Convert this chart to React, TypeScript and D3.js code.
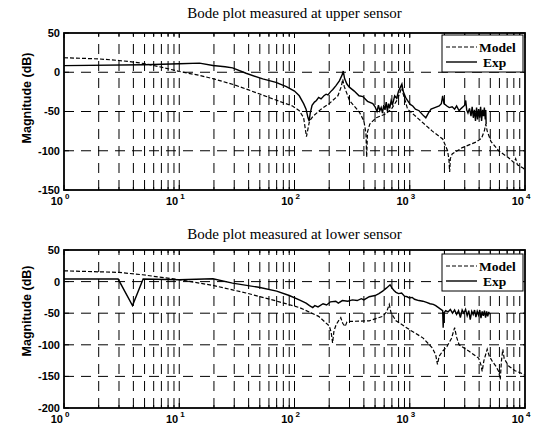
import * as d3 from 'd3'

type Pt = [number, number]

const decadeTicks = [1, 10, 100, 1000, 10000]
const decadeExponents = ['0', '1', '2', '3', '4']
const upperYTicks = [50, 0, -50, -100, -150]
const lowerYTicks = [50, 0, -50, -100, -150, -200]
const seriesNames = ['Model', 'Exp']

// upper sensor, model (freq Hz, dB)
const upperModel: Pt[] = [
  [1, 18.5], [2, 17], [3, 15], [4, 13], [5, 11], [7, 6.5], [10, 1], [15, -4], [20, -8.5],
  [30, -16], [40, -22.5], [65, -34], [96, -43], [110, -49], [120, -58], [127, -82], [135, -62],
  [145, -56], [170, -47], [200, -40], [238, -30], [255, -18], [262, -9], [270, -18], [300, -36],
  [366, -51], [400, -62], [417, -78], [423, -108], [430, -76], [450, -66], [510, -58], [620, -53],
  [700, -46], [780, -35], [840, -22], [856, -19], [875, -27], [958, -47], [1205, -60], [1570, -75],
  [1930, -85], [2130, -100], [2190, -112], [2220, -127], [2250, -110], [2335, -104], [2860, -96],
  [3760, -89], [4200, -84], [4450, -74], [4570, -66], [4700, -75], [5060, -88], [5900, -100],
  [7200, -109], [8000, -115], [8300, -110], [8600, -118], [9600, -122], [10000, -124],
]

// upper sensor, measured
const upperExp: Pt[] = [
  [1, 8.5], [5, 9.5], [10, 10.8], [15, 11.6], [19.6, 8.6], [25, 7], [29, 5.6], [38, -1.3], [53, -8.5],
  [69, -12.8], [85, -18.3], [100, -24], [110, -30], [120, -40], [126, -47], [131, -58], [134, -62],
  [137, -52], [142, -42], [149, -38], [155, -36], [162, -32], [170, -34], [180, -30], [188, -28],
  [195, -29], [205, -25], [215, -22], [229, -17], [245, -11], [258, -4], [265, 1.5], [272, -8],
  [285, -15], [299, -19], [330, -24], [363, -30], [392, -31], [430, -37], [478, -40], [500, -44],
  [520, -50], [535, -42], [550, -49], [565, -45], [580, -52], [595, -42], [610, -48], [625, -38],
  [640, -50], [655, -40], [670, -46], [690, -36], [710, -41], [740, -30], [770, -33], [800, -24],
  [830, -19], [855, -15], [880, -25], [920, -32], [958, -36], [1010, -41], [1062, -43], [1120, -47],
  [1205, -49], [1290, -54], [1378, -58], [1450, -52], [1530, -47], [1650, -45], [1800, -43],
  [1880, -40], [1930, -30], [1980, -40], [2100, -43], [2200, -45], [2335, -44], [2450, -47],
  [2550, -43], [2680, -49], [2800, -46], [2900, -44], [3000, -42], [3060, -36], [3120, -48],
  [3200, -52], [3300, -46], [3400, -56], [3480, -44], [3560, -58], [3640, -48], [3720, -62],
  [3800, -45], [3880, -60], [3960, -47], [4040, -58], [4120, -44], [4200, -62], [4280, -48],
  [4360, -56], [4440, -45], [4520, -60], [4570, -48], [4600, -66],
]

// lower sensor, model
const lowerModel: Pt[] = [
  [1, 17], [3, 14.6], [4.8, 10.8], [10, 3], [19.6, -6], [38, -18], [69, -30.5], [110, -41],
  [162, -55], [200, -70], [208, -80], [214, -97], [220, -78], [230, -68], [245, -60], [252, -57],
  [262, -66], [275, -71], [285, -64], [299, -63], [445, -62], [582, -55], [630, -48], [664, -36],
  [690, -50], [760, -62], [995, -76], [1300, -89], [1570, -105], [1680, -116], [1740, -131],
  [1800, -118], [1930, -110], [2100, -103], [2300, -90], [2450, -73], [2550, -88], [2680, -100],
  [3250, -110], [3960, -121], [4150, -132], [4250, -142], [4400, -125], [4700, -107], [4900, -118],
  [5200, -126], [5600, -134], [5900, -142], [6100, -155], [6250, -125], [6420, -107], [6600, -122],
  [7250, -134], [8200, -141], [9600, -146], [10000, -148],
]

// lower sensor, measured
const lowerExp: Pt[] = [
  [1, 4], [2.95, 4], [3.93, -38], [4.86, 4], [10, 3], [19.6, 4.5], [29, -2.4], [49, -9], [70, -15],
  [90, -22], [110, -29], [126, -34], [135, -38], [144, -41], [150, -38], [160, -40], [177, -35],
  [190, -37], [205, -32], [228, -31], [240, -34], [260, -30], [290, -31], [318, -29], [350, -30],
  [380, -27], [400, -29], [445, -24], [500, -22], [540, -19], [582, -15], [630, -10], [675, -5],
  [700, -10], [730, -14], [760, -17], [800, -19], [850, -18], [900, -23], [950, -24], [995, -26],
  [1050, -25], [1100, -28], [1200, -30], [1300, -31], [1400, -33], [1500, -35], [1600, -36],
  [1680, -38], [1800, -42], [1930, -46], [1950, -73], [1970, -50], [2050, -46], [2150, -48],
  [2250, -44], [2350, -50], [2450, -45], [2550, -52], [2650, -46], [2750, -57], [2850, -45],
  [2950, -50], [3050, -44], [3150, -54], [3250, -46], [3350, -60], [3450, -47], [3550, -52],
  [3650, -45], [3750, -56], [3850, -47], [3950, -53], [4050, -45], [4150, -58], [4250, -47],
  [4350, -54], [4450, -46], [4550, -57], [4650, -47], [4750, -55], [4850, -48], [4900, -52],
]

const sans = 'Liberation Sans, Arial, sans-serif'
const serif = 'Liberation Serif, Times New Roman, serif'

function Panel(props: {
  id: string, title: string, top: number, bottom: number, yTicks: number[],
  model: Pt[], exp: Pt[], legendTop: number, titleY: number, labelY: number
}) {
  const left = 64, right = 525
  const x = d3.scaleLog().domain([1, 1e4]).range([left, right])
  const yMin = d3.min(props.yTicks)!
  const y = d3.scaleLinear().domain([yMin, 50]).range([props.bottom, props.top])
  const line = d3.line<Pt>().x(d => x(d[0])).y(d => y(d[1]))
  const minor = d3.range(0, 4).flatMap(e => d3.range(1, 10).map(k => k * Math.pow(10, e))).concat([1e4])
  const lg = { x: 442, y: props.legendTop, w: 81, h: 37 }

  return (
    <g>
      <defs>
        <clipPath id={props.id}>
          <rect x={left} y={props.top} width={right - left} height={props.bottom - props.top} />
        </clipPath>
      </defs>
      <text x={(left + right) / 2} y={props.titleY} textAnchor="middle"
        style={{ fontFamily: serif, fontSize: 15 }}>{props.title}</text>

      {/* grid */}
      {minor.filter(f => f > 1 && f < 1e4).map(f => (
        <line key={'gx' + f} x1={x(f)} x2={x(f)} y1={props.bottom} y2={props.top}
          stroke="#000" strokeWidth={1} strokeDasharray="10,7" />
      ))}
      {props.yTicks.filter(t => t > yMin && t < 50).map(t => (
        <line key={'gy' + t} x1={left} x2={right} y1={y(t)} y2={y(t)}
          stroke="#000" strokeWidth={1} strokeDasharray="10,7" />
      ))}

      {/* ticks, inward on every side */}
      {minor.map(f => {
        const len = decadeTicks.includes(f) ? 5 : 3
        return (
          <g key={'tx' + f}>
            <line x1={x(f)} x2={x(f)} y1={props.bottom} y2={props.bottom - len} stroke="#000" />
            <line x1={x(f)} x2={x(f)} y1={props.top} y2={props.top + len} stroke="#000" />
          </g>
        )
      })}
      {props.yTicks.map(t => (
        <g key={'ty' + t}>
          <line x1={left} x2={left + 5} y1={y(t)} y2={y(t)} stroke="#000" />
          <line x1={right} x2={right - 5} y1={y(t)} y2={y(t)} stroke="#000" />
          <text x={left - 4} y={y(t)} dy="0.36em" textAnchor="end"
            style={{ fontFamily: sans, fontWeight: 'bold', fontSize: 11 }}>{t}</text>
        </g>
      ))}
      {decadeTicks.map((f, i) => (
        <g key={'lx' + f} style={{ fontFamily: sans, fontWeight: 'bold' }}>
          <text x={x(f) - 1} y={props.bottom + 15} textAnchor="end" fontSize={11}>10</text>
          <text x={x(f) + 1} y={props.bottom + 9} fontSize={8}>{decadeExponents[i]}</text>
        </g>
      ))}

      <text transform={`translate(27,${props.labelY}) rotate(-90)`} textAnchor="middle" dy="0.35em"
        style={{ fontFamily: sans, fontWeight: 'bold', fontSize: 12.5 }}>Magnitude (dB)</text>

      <g clipPath={`url(#${props.id})`}>
        <path d={line(props.model)!} fill="none" stroke="#000" strokeWidth={1.2} strokeDasharray="4,2" />
        <path d={line(props.exp)!} fill="none" stroke="#000" strokeWidth={1.4} />
      </g>

      <rect x={left} y={props.top} width={right - left} height={props.bottom - props.top}
        fill="none" stroke="#000" strokeWidth={1.8} />

      {/* legend */}
      <rect x={lg.x} y={lg.y} width={lg.w} height={lg.h} fill="#fff" stroke="#000" strokeWidth={1} />
      {seriesNames.map((name, i) => {
        const ly = lg.y + 12 + i * 15
        return (
          <g key={name}>
            <line x1={lg.x + 4} x2={lg.x + 35} y1={ly} y2={ly} stroke="#000"
              strokeWidth={i === 0 ? 1.2 : 1.4} strokeDasharray={i === 0 ? '4,2' : undefined} />
            <text x={i === 0 ? lg.x + 37 : lg.x + 41} y={ly} dy="0.35em"
              style={{ fontFamily: serif, fontWeight: 'bold', fontSize: 13.5 }}>{name}</text>
          </g>
        )
      })}
    </g>
  )
}

export default function App() {
  return (
    <svg width={539} height={429} style={{ position: 'absolute', left: 0, top: 0, background: '#fff' }}>
      <Panel id="clipUpper" title="Bode plot measured at upper sensor" top={33} bottom={190}
        yTicks={upperYTicks} model={upperModel} exp={upperExp} legendTop={35} titleY={18} labelY={98} />
      <Panel id="clipLower" title="Bode plot measured at lower sensor" top={250} bottom={408}
        yTicks={lowerYTicks} model={lowerModel} exp={lowerExp} legendTop={254} titleY={239} labelY={311} />
    </svg>
  )
}
